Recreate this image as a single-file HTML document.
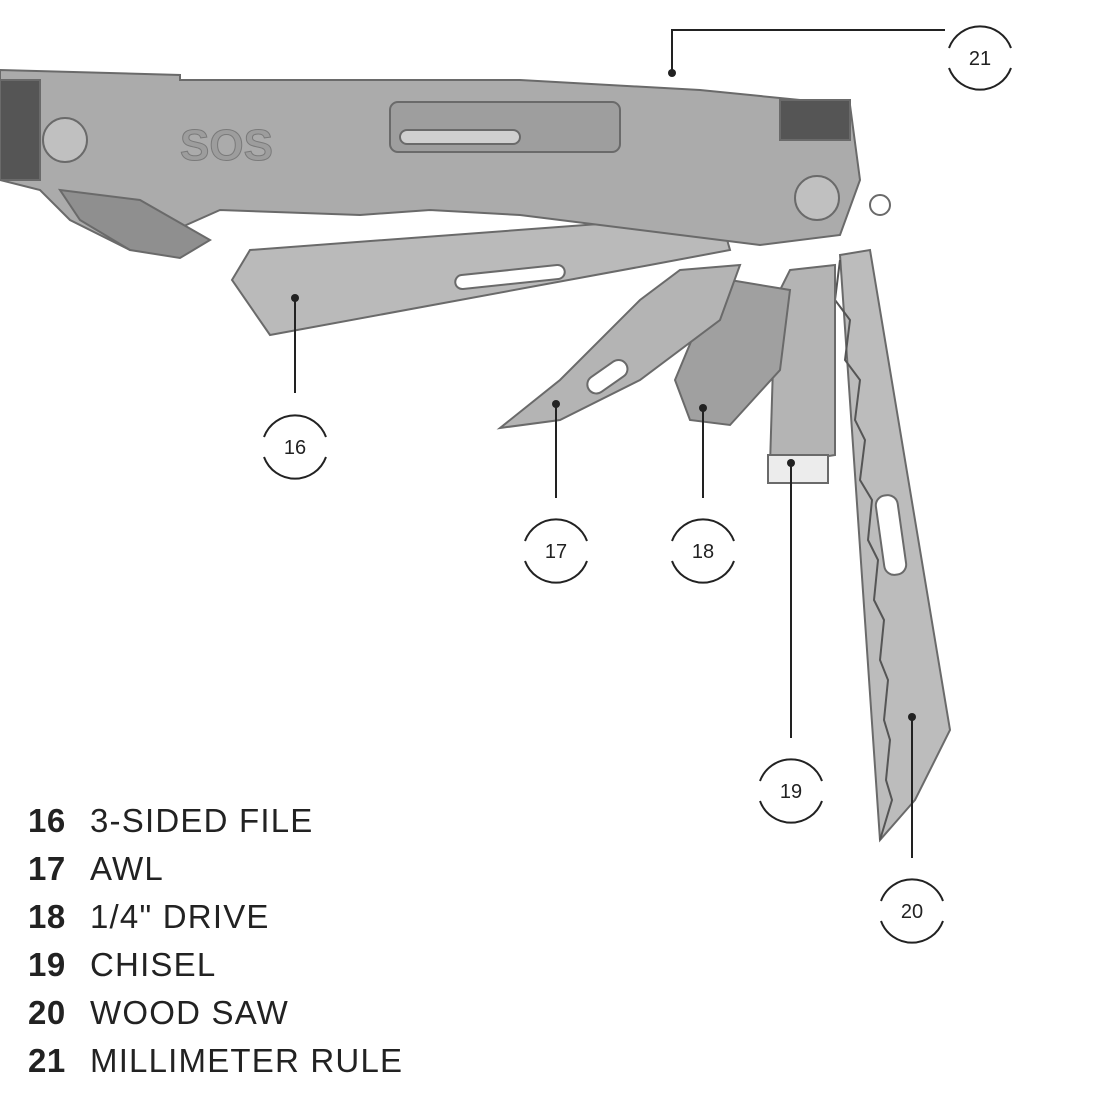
<!DOCTYPE html>
<html><head><style>
body{margin:0;width:1100px;height:1100px;background:#fff;overflow:hidden;font-family:"Liberation Sans",sans-serif}
.leg{position:absolute;left:28px;font-size:33px;color:#222;letter-spacing:1.2px}
.leg b{display:inline-block;width:62px;font-weight:bold;letter-spacing:0.5px}
</style></head><body>
<svg width="1100" height="1100" style="position:absolute;left:0;top:0">
<g stroke="#6a6a6a" stroke-width="2" fill="#afafaf">
<!-- saw -->
<polygon points="840,255 870,250 950,730 915,800 880,840" fill="#bcbcbc"/>
<polyline points="840,260 835,300 850,320 845,360 860,380 855,420 865,440 860,480 872,500 868,540 878,560 874,600 884,620 880,660 888,680 884,720 890,740 886,780 892,800 880,840" fill="none" stroke="#555"/>
<rect x="880" y="495" width="22" height="80" rx="10" fill="#fff" transform="rotate(-8 891 535)"/>
<!-- chisel -->
<polygon points="790,270 835,265 835,455 770,465 775,300" fill="#b4b4b4"/>
<rect x="768" y="455" width="60" height="28" fill="#ececec"/>
<!-- drive -->
<polygon points="730,280 790,290 780,370 730,425 690,420 675,380 700,320" fill="#a0a0a0"/>
<!-- awl -->
<polygon points="680,270 740,265 720,320 640,380 560,420 500,428 560,380 640,300" fill="#b4b4b4"/>
<rect x="585" y="368" width="45" height="18" rx="9" fill="#fff" transform="rotate(-35 607 377)"/>
<!-- file -->
<polygon points="250,250 720,215 730,250 650,265 270,335 232,280" fill="#bababa"/>
<rect x="455" y="270" width="110" height="14" rx="7" fill="#fff" transform="rotate(-6 510 277)"/>
<!-- handle -->
<polygon points="0,70 180,75 180,80 520,80 700,90 800,100 850,105 860,180 840,235 760,245 640,230 520,215 430,210 360,215 220,210 130,250 70,220 40,190 0,180" fill="#ababab"/>
<polygon points="60,190 140,200 210,240 180,258 130,250 80,220" fill="#8f8f8f"/>
<rect x="390" y="102" width="230" height="50" rx="8" fill="#9e9e9e"/>
<rect x="400" y="130" width="120" height="14" rx="7" fill="#d0d0d0"/>
<rect x="780" y="100" width="70" height="40" fill="#555"/>
<rect x="0" y="80" width="40" height="100" fill="#555"/>
<circle cx="65" cy="140" r="22" fill="#c0c0c0"/>
<circle cx="817" cy="198" r="22" fill="#c0c0c0"/>
<circle cx="880" cy="205" r="10" fill="none"/>
</g>
<text x="180" y="160" font-size="44" font-weight="bold" fill="#9d9d9d" stroke="#7a7a7a" font-family="Liberation Sans">SOS</text>
<g stroke="#222" stroke-width="2" fill="none">
<line x1="295" y1="298" x2="295" y2="393"/>
<line x1="556" y1="404" x2="556" y2="498"/>
<line x1="703" y1="408" x2="703" y2="498"/>
<line x1="791" y1="463" x2="791" y2="738"/>
<line x1="912" y1="717" x2="912" y2="858"/>
<polyline points="672,73 672,30 945,30"/>
</g>
<g fill="#222"><circle cx="295" cy="298" r="4"/><circle cx="556" cy="404" r="4"/><circle cx="703" cy="408" r="4"/><circle cx="791" cy="463" r="4"/><circle cx="912" cy="717" r="4"/><circle cx="672" cy="73" r="4"/></g>
<g stroke="#222" stroke-width="2" fill="none">
<path d="M264,437 A33,33 0 0 1 326,437 M326,457 A33,33 0 0 1 264,457"/>
<path d="M525,541 A33,33 0 0 1 587,541 M587,561 A33,33 0 0 1 525,561"/>
<path d="M672,541 A33,33 0 0 1 734,541 M734,561 A33,33 0 0 1 672,561"/>
<path d="M760,781 A33,33 0 0 1 822,781 M822,801 A33,33 0 0 1 760,801"/>
<path d="M881,901 A33,33 0 0 1 943,901 M943,921 A33,33 0 0 1 881,921"/>
<path d="M949,48 A33,33 0 0 1 1011,48 M1011,68 A33,33 0 0 1 949,68"/>
</g>
<g font-size="20" fill="#222" text-anchor="middle" font-family="Liberation Sans">
<text x="295" y="454">16</text><text x="556" y="558">17</text><text x="703" y="558">18</text>
<text x="791" y="798">19</text><text x="912" y="918">20</text><text x="980" y="65">21</text>
</g>
</svg>
<div class="leg" style="top:802px"><b>16</b>3-SIDED FILE</div>
<div class="leg" style="top:850px"><b>17</b>AWL</div>
<div class="leg" style="top:898px"><b>18</b>1/4" DRIVE</div>
<div class="leg" style="top:946px"><b>19</b>CHISEL</div>
<div class="leg" style="top:994px"><b>20</b>WOOD SAW</div>
<div class="leg" style="top:1042px"><b>21</b>MILLIMETER RULE</div>
</body></html>
